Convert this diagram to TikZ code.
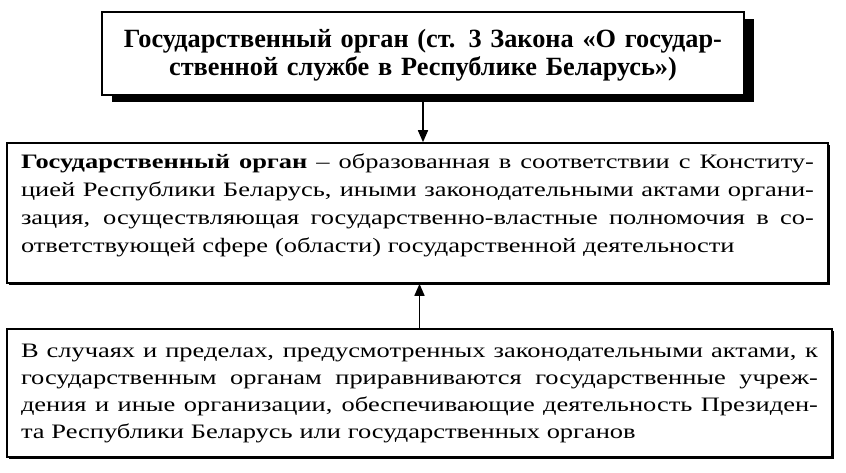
\documentclass[tikz,border=0pt]{standalone}
\usepackage{fontspec}
\setmainfont{Liberation Serif}
\newfontfamily\widefont[FakeStretch=1.29]{Liberation Serif}
\usepackage{tikz}
\usetikzlibrary{arrows.meta,shadows}
\newcommand{\fullline}[2]{{\spaceskip=0.25em plus 2em minus 0.1em\makebox[#1][s]{#2}}\\}
\tikzset{%
  every box/.style={
    rectangle,
    draw,
    fill=white,
    line width=1.6pt,
    inner ysep=0pt,
    align=left
  },
  head box/.style={
    every box,
    line width=2pt,
    drop shadow={shadow xshift=10pt, shadow yshift=-7pt, fill=black, opacity=1},
    font=\bfseries\fontsize{26.3}{28}\selectfont,
    align=center,
    text width=610pt,
    inner xsep=16pt
  },
  text box/.style={
    every box,
    drop shadow={shadow xshift=1.5pt, shadow yshift=-1.5pt, fill=black, opacity=1},
    font=\widefont\fontsize{20.5}{28}\selectfont,
    inner xsep=14pt
  },
}

\begin{document}
\begin{tikzpicture}[> = {Triangle[length=12pt, width=10pt]}, x=1pt, y=-1pt]
\fill[white] (0,0) rectangle (846,472);
\useasboundingbox (0,0) rectangle (846,472);

    \node[head box, text height=35pt, text depth=48pt] (head) at (423,53.5)
        {Государственный орган (ст. 3 Закона «О государ-\\ственной службе в Республике Беларусь»)};

    \node[text box, text width=793pt, text height=25pt, text depth=115pt] (def) at (417.5,213)
        {\fullline{793pt}{\textbf{Государственный орган} – образованная в соответствии с Конститу-}%
         \fullline{793pt}{цией Республики Беларусь, иными законодательными актами органи-}%
         \fullline{793pt}{зация, осуществляющая государственно-властные полномочия в со-}%
         ответствующей сфере (области) государственной деятельности};

    \node[text box, text width=797pt, text height=28pt, text depth=100pt,
          font=\widefont\fontsize{20.5}{27}\selectfont] (equal) at (419.5,393)
        {\fullline{797pt}{В случаях и пределах, предусмотренных законодательными актами, к}%
         \fullline{797pt}{государственным органам приравниваются государственные учреж-}%
         \fullline{797pt}{дения и иные организации, обеспечивающие деятельность Президен-}%
         та Республики Беларусь или государственных органов};

   \draw[line width=1.6pt, ->] (head.south) -- (head.south |- def.north);
   \draw[line width=1.6pt, ->] (equal.north) -- (equal.north |- def.south);
\end{tikzpicture}
\end{document}
